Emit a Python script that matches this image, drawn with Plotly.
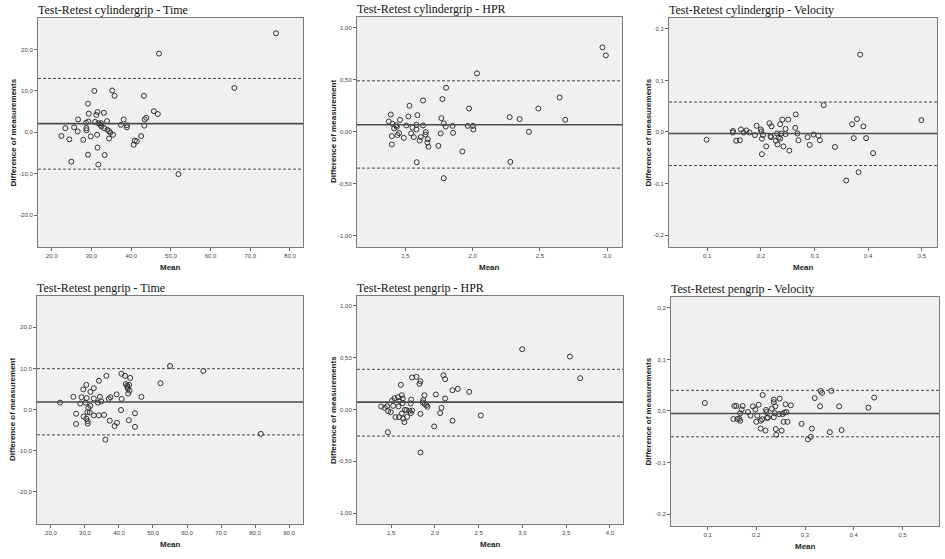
import plotly.graph_objects as go

# ---------------- DATA ----------------
titles = ["Test-Retest cylindergrip - Time", "Test-Retest cylindergrip - HPR",
          "Test-Retest cylindergrip - Velocity", "Test-Retest pengrip - Time",
          "Test-Retest pengrip - HPR", "Test-Retest pengrip - Velocity"]
ytitles = ["Difference of measurements", "Difference of measurement", "Difference of measurements",
           "Difference of measurement", "Difference of measurements", "Difference of measurements"]

cyl_time_mean = [76.5, 47.0, 66.0, 51.9, 30.7, 35.2, 35.8, 43.2, 29.1, 29.3, 31.5, 31.2, 33.1, 45.7, 46.7,
                 43.8, 43.4, 38.1, 26.6, 43.3, 38.9, 38.9, 37.4, 33.9, 29.2, 28.6, 30.9, 31.7, 32.4, 32.2,
                 32.5, 33.2, 34.0, 34.4, 34.7, 35.4, 23.4, 25.6, 28.7, 28.7, 26.5, 22.4, 24.4, 27.9, 29.8,
                 31.4, 34.4, 31.5, 29.1, 33.3, 24.9, 31.7, 40.6, 40.9, 41.4, 42.5]
cyl_time_diff = [23.9, 19.0, 10.7, -10.1, 10.0, 10.1, 8.8, 8.8, 6.9, 4.5, 4.9, 4.2, 4.7, 5.1, 4.4,
                 3.5, 3.1, 3.1, 3.1, 1.6, 1.7, 1.2, 1.8, 2.7, 2.6, 2.3, 2.5, 2.2, 2.2, 1.8,
                 1.4, 1.0, 0.6, 0.3, -0.1, -0.6, 1.0, 1.2, 1.0, 0.5, 0.2, -0.9, -1.7, -1.8, -1.0,
                 -0.6, -1.5, -3.7, -5.4, -5.5, -7.1, -7.8, -3.0, -2.0, -2.2, -0.9]

cyl_hpr_mean = [2.965, 2.99, 2.032, 1.802, 1.775, 1.631, 1.530, 1.973, 2.488, 2.646, 2.275, 2.349, 2.688,
                1.391, 1.522, 1.589, 1.460, 1.376, 1.403, 1.767, 1.785, 1.800, 1.851, 1.963, 2.002, 2.005,
                1.582, 1.507, 1.631, 1.433, 1.436, 1.416, 1.552, 1.582, 2.418, 1.854, 1.762, 1.651, 1.649,
                1.453, 1.441, 1.399, 1.542, 1.562, 1.488, 1.614, 1.606, 1.666, 1.663, 1.671, 1.745, 1.399,
                1.923, 1.584, 2.280, 1.785]
cyl_hpr_diff = [0.808, 0.731, 0.558, 0.420, 0.311, 0.298, 0.247, 0.221, 0.221, 0.327, 0.138, 0.119, 0.112,
                0.163, 0.144, 0.157, 0.112, 0.096, 0.074, 0.128, 0.077, 0.048, 0.054, 0.054, 0.054, 0.019,
                0.064, 0.058, 0.058, 0.061, 0.045, 0.029, 0.038, 0.019, -0.003, -0.013, -0.019, -0.006, -0.029,
                -0.016, -0.035, -0.045, -0.019, -0.054, -0.061, -0.054, -0.087, -0.074, -0.106, -0.147, -0.138, -0.125,
                -0.192, -0.295, -0.292, -0.449]

cyl_vel_mean = [0.385, 0.317, 0.499, 0.265, 0.379, 0.370, 0.391, 0.373, 0.396, 0.409, 0.338, 0.359, 0.382,
                0.099, 0.148, 0.148, 0.163, 0.168, 0.173, 0.179, 0.154, 0.161, 0.189, 0.192, 0.200, 0.201,
                0.204, 0.202, 0.202, 0.210, 0.216, 0.220, 0.218, 0.219, 0.230, 0.228, 0.231, 0.233, 0.236,
                0.238, 0.236, 0.240, 0.242, 0.246, 0.246, 0.251, 0.253, 0.264, 0.268, 0.270, 0.287, 0.291,
                0.298, 0.307, 0.310]
cyl_vel_diff = [0.150, 0.052, 0.023, 0.034, 0.025, 0.015, 0.011, -0.012, -0.012, -0.041, -0.029, -0.094, -0.078,
                -0.015, 0.002, -0.001, 0.005, -0.001, 0.003, -0.001, -0.017, -0.016, -0.006, 0.012, 0.005, 0.001,
                -0.006, -0.013, -0.043, -0.028, 0.017, 0.011, -0.008, -0.010, -0.003, -0.017, -0.024, -0.011, -0.013,
                -0.003, 0.015, 0.024, -0.028, 0.006, -0.004, 0.024, -0.036, 0.008, -0.003, -0.016, -0.010, -0.025,
                -0.005, -0.007, -0.016]

pen_time_mean = [22.7, 81.7, 64.8, 55.0, 52.2, 46.6, 26.6, 29.0, 29.5, 30.4, 32.6, 31.6, 34.1, 36.3, 40.7,
                 41.8, 43.3, 42.0, 42.4, 42.5, 43.0, 42.6, 43.1, 42.7, 39.3, 40.8, 37.5, 37.0, 34.4, 34.8,
                 33.8, 30.5, 32.6, 28.6, 30.2, 31.6, 31.0, 30.7, 31.4, 27.4, 29.6, 30.4, 30.8, 30.8, 27.4,
                 32.6, 34.1, 35.6, 37.3, 39.4, 38.7, 36.0, 40.6, 44.7, 42.9, 44.7]
pen_time_diff = [1.7, -5.9, 9.4, 10.6, 6.4, 3.1, 3.1, 3.0, 4.9, 6.0, 5.2, 4.3, 7.0, 8.2, 8.7,
                 8.2, 7.7, 6.2, 5.8, 5.5, 6.0, 5.1, 4.6, 3.9, 3.7, 2.6, 3.0, 2.6, 3.1, 2.0,
                 1.7, 2.8, 2.7, 1.5, 1.7, 0.9, 0.4, -0.6, -0.7, -1.0, -1.7, -2.2, -2.8, -3.4, -3.5,
                 -1.4, -1.4, -1.3, -2.7, -3.2, -4.0, -7.3, -0.1, -0.9, -2.6, -4.2]

pen_hpr_mean = [2.998, 3.543, 3.661, 1.740, 1.790, 1.835, 1.824, 1.611, 2.098, 2.117, 2.262, 2.201, 2.392,
                2.011, 1.881, 2.117, 1.622, 1.538, 1.580, 1.633, 1.511, 1.595, 1.729, 1.725, 1.630, 1.866,
                1.862, 1.885, 1.904, 1.915, 1.584, 1.523, 1.386, 1.428, 1.454, 1.466, 1.496, 1.656, 1.675,
                1.710, 1.740, 1.622, 1.725, 1.683, 1.637, 1.591, 1.550, 1.652, 2.075, 2.060, 1.835, 2.525,
                2.201, 1.992, 1.462, 1.835]
pen_hpr_diff = [0.582, 0.511, 0.302, 0.309, 0.315, 0.273, 0.248, 0.238, 0.331, 0.293, 0.199, 0.186, 0.170,
                0.145, 0.138, 0.106, 0.138, 0.109, 0.119, 0.106, 0.087, 0.084, 0.096, 0.058, 0.061, 0.090,
                0.068, 0.051, 0.042, 0.026, 0.029, 0.035, 0.029, 0.016, 0.032, -0.016, -0.026, -0.003, -0.006,
                -0.013, -0.010, -0.039, -0.035, -0.071, -0.087, -0.074, -0.074, -0.122, 0.016, -0.035, -0.042, -0.058,
                -0.109, -0.164, -0.219, -0.415]

pen_vel_mean = [0.0945, 0.155, 0.159, 0.153, 0.161, 0.165, 0.167, 0.167, 0.170, 0.172, 0.183, 0.188, 0.193,
                0.198, 0.205, 0.202, 0.200, 0.209, 0.212, 0.209, 0.219, 0.213, 0.220, 0.221, 0.222, 0.224,
                0.232, 0.236, 0.236, 0.239, 0.236, 0.238, 0.240, 0.241, 0.248, 0.247, 0.254, 0.252, 0.256,
                0.260, 0.258, 0.262, 0.264, 0.271, 0.293, 0.320, 0.332, 0.335, 0.354, 0.331, 0.370, 0.314,
                0.312, 0.306, 0.351, 0.375, 0.430, 0.442]
pen_vel_diff = [0.0155, 0.0097, 0.0097, -0.0155, -0.0155, -0.015, -0.019, -0.0045, 0.003, 0.0097, -0.002, -0.009, 0.009,
                0.003, 0.012, -0.009, -0.021, -0.019, -0.016, -0.034, -0.038, 0.031, 0.002, -0.002, -0.0135, -0.013,
                0.0045, 0.022, 0.017, 0.009, -0.012, -0.004, -0.035, -0.046, 0.024, -0.006, -0.006, -0.038, -0.021,
                0.013, -0.003, -0.002, -0.021, 0.011, -0.025, 0.025, 0.039, 0.035, 0.039, 0.009, 0.009, -0.034,
                -0.050, -0.055, -0.041, -0.037, 0.0065, 0.026]

# mean difference, upper and lower limits of agreement
bias = [2.1, 0.064, -0.003, 1.86, 0.071, -0.005]
upper_loa = [13.0, 0.487, 0.058, 9.94, 0.388, 0.040]
lower_loa = [-8.9, -0.352, -0.065, -6.14, -0.257, -0.050]

time_x_ticks_1 = [20, 30, 40, 50, 60, 70, 80]
time_x_text_1 = ["20,0", "30,0", "40,0", "50,0", "60,0", "70,0", "80,0"]
time_x_ticks_2 = [20, 30, 40, 50, 60, 70, 80, 90]
time_x_text_2 = ["20,0", "30,0", "40,0", "50,0", "60,0", "70,0", "80,0", "90,0"]
time_y_ticks = [-20, -10, 0, 10, 20]
time_y_text = ["-20,0", "-10,0", "0,0", "10,0", "20,0"]
hpr_x_ticks_1 = [1.5, 2.0, 2.5, 3.0]
hpr_x_text_1 = ["1,5", "2,0", "2,5", "3,0"]
hpr_x_ticks_2 = [1.5, 2.0, 2.5, 3.0, 3.5, 4.0]
hpr_x_text_2 = ["1,5", "2,0", "2,5", "3,0", "3,5", "4,0"]
hpr_y_ticks = [-1.0, -0.5, 0.0, 0.5, 1.0]
hpr_y_text = ["-1,00", "-0,50", "0,00", "0,50", "1,00"]
vel_x_ticks = [0.1, 0.2, 0.3, 0.4, 0.5]
vel_x_text = ["0,1", "0,2", "0,3", "0,4", "0,5"]
vel_y_ticks = [-0.2, -0.1, 0.0, 0.1, 0.2]
vel_y_text = ["-0,2", "-0,1", "0,0", "0,1", "0,2"]

# ---------------- LAYOUT ----------------
W, H = 945, 559
series = [(cyl_time_mean, cyl_time_diff), (cyl_hpr_mean, cyl_hpr_diff), (cyl_vel_mean, cyl_vel_diff),
          (pen_time_mean, pen_time_diff), (pen_hpr_mean, pen_hpr_diff), (pen_vel_mean, pen_vel_diff)]
# plot boxes in window pixels: left, right, top, bottom
boxes = [(38, 303, 18, 247), (357, 622, 17, 247), (669, 937, 18, 247),
         (37, 303, 296, 524), (357, 623, 296, 524), (671, 939, 297, 526)]
xranges = [[16.5, 83.3], [1.14, 3.11], [0.029, 0.528], [15.9, 94.1], [1.11, 4.15], [0.025, 0.575]]
yranges = [[-27.7, 27.6], [-1.11, 1.10], [-0.223, 0.221], [-27.8, 27.6], [-1.106, 1.096], [-0.223, 0.221]]
xt = [(time_x_ticks_1, time_x_text_1), (hpr_x_ticks_1, hpr_x_text_1), (vel_x_ticks, vel_x_text),
      (time_x_ticks_2, time_x_text_2), (hpr_x_ticks_2, hpr_x_text_2), (vel_x_ticks, vel_x_text)]
yt = [(time_y_ticks, time_y_text), (hpr_y_ticks, hpr_y_text), (vel_y_ticks, vel_y_text),
      (time_y_ticks, time_y_text), (hpr_y_ticks, hpr_y_text), (vel_y_ticks, vel_y_text)]
ytitle_x = [13, 333, 648, 12, 333, 648]


def px(v):
    return v / W


def py(v):
    return 1 - v / H


fig = go.Figure()
layout = dict(width=W, height=H, autosize=False, margin=dict(l=0, r=0, t=0, b=0),
              paper_bgcolor="white", plot_bgcolor="#f0f0f0", showlegend=False,
              shapes=[], annotations=[])

tickfont = dict(family="Liberation Sans, Arial, sans-serif", size=6, color="#444444")
boldfont = dict(family="Liberation Sans, Arial, sans-serif", size=8, color="#222222")

for i in range(6):
    n = "" if i == 0 else str(i + 1)
    l, r, t, b = boxes[i]
    fig.add_trace(go.Scatter(x=series[i][0], y=series[i][1], mode="markers",
                             xaxis="x" + n, yaxis="y" + n,
                             marker=dict(symbol="circle-open", size=5, color="#333333",
                                         line=dict(width=1, color="#333333")),
                             hoverinfo="x+y"))
    layout["xaxis" + n] = dict(domain=[px(l), px(r)], range=xranges[i], anchor="y" + n,
                               tickvals=xt[i][0], ticktext=xt[i][1], tickfont=tickfont,
                               ticks="outside", ticklen=3, tickcolor="#666666",
                               showgrid=False, zeroline=False, showline=True, mirror=True,
                               linecolor="#7a7a7a", linewidth=1)
    layout["yaxis" + n] = dict(domain=[py(b), py(t)], range=yranges[i], anchor="x" + n,
                               tickvals=yt[i][0], ticktext=yt[i][1], tickfont=tickfont,
                               ticks="outside", ticklen=3, tickcolor="#666666",
                               showgrid=False, zeroline=False, showline=True, mirror=True,
                               linecolor="#7a7a7a", linewidth=1)
    xr = "x" + n + " domain"
    yr = "y" + n
    layout["shapes"].append(dict(type="line", xref=xr, yref=yr, x0=0, x1=1, y0=bias[i], y1=bias[i],
                                 line=dict(color="#4a4a4a", width=1.6)))
    for v in (upper_loa[i], lower_loa[i]):
        layout["shapes"].append(dict(type="line", xref=xr, yref=yr, x0=0, x1=1, y0=v, y1=v,
                                     line=dict(color="#4a4a4a", width=1, dash="3px,2px")))
    layout["annotations"].append(dict(text=titles[i], xref="paper", yref="paper",
                                      x=px(l - 2), y=py(t - 8), xanchor="left", yanchor="middle",
                                      showarrow=False,
                                      font=dict(family="Liberation Serif, Times New Roman, serif",
                                                size=12, color="#111111")))
    layout["annotations"].append(dict(text="<b>Mean</b>", xref="paper", yref="paper",
                                      x=px((l + r) / 2), y=py(b + 20), xanchor="center",
                                      yanchor="middle", showarrow=False, font=boldfont))
    layout["annotations"].append(dict(text="<b>" + ytitles[i] + "</b>", xref="paper", yref="paper",
                                      x=px(ytitle_x[i]), y=py((t + b) / 2), xanchor="center",
                                      yanchor="middle", textangle=-90, showarrow=False, font=boldfont))

fig.update_layout(**layout)
# remove the default 8px body margin of the page so the figure fills the window exactly
fig.write_html("out.html", config={"displayModeBar": False},
               post_script="document.body.style.margin='0';document.body.style.overflow='hidden';")
